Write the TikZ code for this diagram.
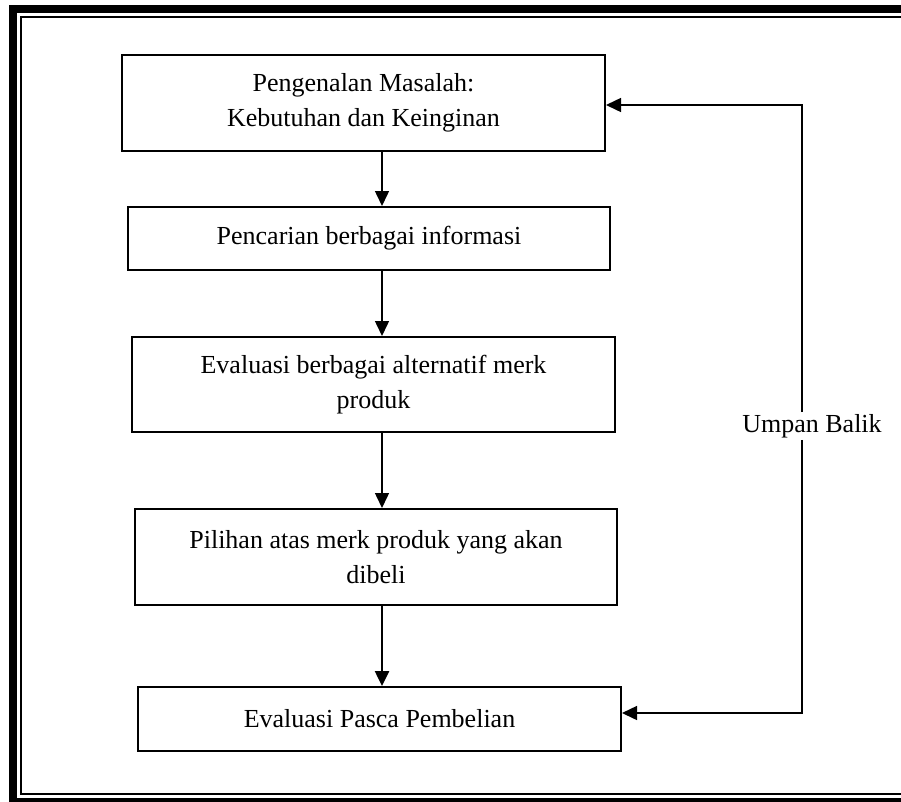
\documentclass[tikz,border=0pt]{standalone}
\usepackage{fontspec}
\setmainfont{Liberation Serif}
\usetikzlibrary{arrows.meta, positioning}

\begin{document}
\begin{tikzpicture}[x=1pt, y=-1pt, >={Triangle[length=15pt, width=14pt]},
    tahap/.style={draw, line width=2pt, align=center, inner sep=0pt,
        font=\fontsize{26}{35}\selectfont},
    panah/.style={->, line width=1.5pt}]
    \useasboundingbox (0,0) rectangle (901,801);
    \clip (0,0) rectangle (901,801);
    % Bingkai ganda
    \draw[line width=8pt] (13,9) rectangle (912,802);
    \draw[line width=2pt] (21,17) rectangle (904,794);

    % Tahapan keputusan pembelian
    \node[tahap, minimum width=483pt, minimum height=96pt] (kenal) at (363.5,103)
        {Pengenalan Masalah:\\Kebutuhan dan Keinginan};
    \node[tahap, minimum width=482pt, minimum height=63pt] (cari) at (369,238.5)
        {Pencarian berbagai informasi};
    \node[tahap, minimum width=483pt, minimum height=95pt] (eval) at (373.5,384.5)
        {Evaluasi berbagai alternatif merk\\produk};
    \node[tahap, minimum width=482pt, minimum height=96pt] (pilih) at (376,557)
        {Pilihan atas merk produk yang akan\\dibeli};
    \node[tahap, minimum width=483pt, minimum height=64pt] (pasca) at (379.5,719)
        {Evaluasi Pasca Pembelian};

    % Panah antar tahap
    \coordinate (sumbu) at (382,0);
    \draw[panah] (kenal.south -| sumbu) -- (cari.north -| sumbu);
    \draw[panah] (cari.south -| sumbu) -- (eval.north -| sumbu);
    \draw[panah] (eval.south -| sumbu) -- (pilih.north -| sumbu);
    \draw[panah, line width=2.5pt] (pilih.south -| sumbu) -- (pasca.north -| sumbu);

    % Umpan balik
    \coordinate (atas) at (802,105);
    \coordinate (bawah) at (802,713);
    \node[fill=white, inner sep=2pt, font=\fontsize{26}{35}\selectfont] (umpan) at (812,426) {Umpan Balik};
    \draw[panah] (umpan.north -| atas) -- (atas) -- (atas -| kenal.east);
    \draw[panah] (umpan.south -| bawah) -- (bawah) -- (bawah -| pasca.east);
\end{tikzpicture}
\end{document}
